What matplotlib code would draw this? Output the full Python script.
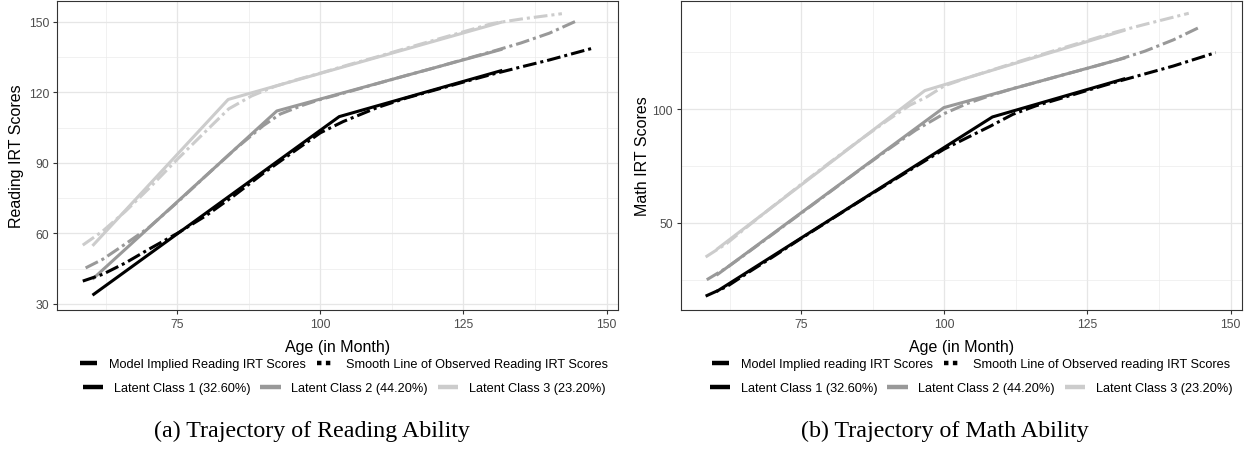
import numpy as np
import matplotlib
matplotlib.use("Agg")
import matplotlib.pyplot as plt
from matplotlib.lines import Line2D

plt.rcParams['font.family'] = ['Liberation Sans', 'DejaVu Sans']

# ---- reading: model implied (bilinear) ----
read_m_age1 = [60.2, 103.3, 131.8]
read_m_val1 = [33.7, 109.7, 129.4]
read_m_age2 = [60.2, 92.4, 131.8]
read_m_val2 = [40.5, 112.1, 138.4]
read_m_age3 = [60.2, 83.9, 131.8]
read_m_val3 = [54.7, 117.0, 150.0]

# ---- reading: smooth line of observed ----
read_o_age1 = [58.5, 62, 66, 70, 75, 80, 85, 90, 95, 100, 104, 110, 115, 120, 125, 130, 135, 140, 147.7]
read_o_val1 = [39.7, 42.6, 47.5, 53.2, 60.0, 67.5, 76.2, 85.5, 94.2, 102.8, 107.6, 113.6, 117.6, 121.0, 124.4, 127.7, 130.8, 133.8, 138.9]
read_o_age2 = [59, 62, 66, 70, 75, 80, 85, 90, 93, 97, 100, 105, 110, 115, 120, 125, 130, 135, 140, 145]
read_o_val2 = [45.3, 49.0, 55.6, 62.4, 73.2, 84.5, 95.6, 105.8, 110.8, 114.6, 117.0, 120.3, 123.8, 127.2, 130.5, 134.0, 137.4, 141.0, 145.2, 150.7]
read_o_age3 = [58.5, 62, 66, 70, 75, 80, 84, 88, 92, 96, 100, 105, 110, 115, 120, 125, 130, 135, 142.2]
read_o_val3 = [55.0, 61.0, 69.5, 79.0, 91.5, 103.5, 113.0, 118.5, 122.5, 125.5, 128.2, 131.8, 135.2, 138.8, 142.3, 145.8, 149.3, 151.2, 153.5]

# ---- math: model implied ----
math_m_age1 = [60.2, 108.4, 131.6]
math_m_val1 = [19.8, 96.6, 113.5]
math_m_age2 = [60.2, 99.9, 131.6]
math_m_val2 = [27.0, 100.7, 122.6]
math_m_age3 = [60.2, 96.6, 131.6]
math_m_val3 = [38.3, 108.2, 134.8]

# ---- math: smooth line of observed ----
math_o_age1 = [58.3, 62, 66, 70, 75, 80, 85, 90, 95, 100, 104, 108, 112, 116, 120, 125, 130, 135, 140, 147.4]
math_o_val1 = [17.8, 22.0, 28.6, 35.0, 43.2, 51.2, 59.2, 67.0, 74.8, 82.5, 87.5, 92.5, 97.8, 101.5, 104.5, 108.3, 112.0, 115.5, 119.0, 124.9]
math_o_age2 = [58.5, 62, 66, 70, 75, 80, 85, 90, 95, 100, 104, 108, 112, 116, 120, 125, 130, 135, 140, 144.7]
math_o_val2 = [25.0, 30.3, 37.6, 45.0, 54.3, 63.6, 72.9, 82.0, 90.8, 98.1, 102.5, 106.0, 109.1, 111.8, 114.6, 118.0, 121.5, 125.5, 130.5, 136.2]
math_o_age3 = [58.3, 62, 66, 70, 75, 80, 85, 90, 94, 97, 100, 104, 108, 112, 116, 120, 125, 130, 135, 142.7]
math_o_val3 = [35.0, 41.0, 49.2, 57.2, 67.0, 76.6, 86.0, 95.0, 101.8, 105.5, 110.3, 113.8, 117.0, 120.2, 123.3, 126.4, 130.2, 134.0, 137.3, 142.2]

class_labels = ['Latent Class 1 (32.60%)', 'Latent Class 2 (44.20%)', 'Latent Class 3 (23.20%)']
class_colors = ['#000000', '#999999', '#cccccc']

W, H = 1251, 456
fig = plt.figure(figsize=(W / 100, H / 100), dpi=100)

lw = 2.2
dd = (4.5, 1.3, 1.0, 1.3)


def panel(ax, model, obs, ylim, yticks, yminor, ylabel):
    for (a, v), c in zip(model, class_colors):
        ax.plot(a, v, color=c, lw=lw, solid_capstyle='butt', zorder=3)
    for (a, v), c in zip(obs, class_colors):
        ax.plot(a, v, color=c, lw=lw, dashes=dd, dash_capstyle='butt', zorder=3)
    ax.set_xlim(54.0, 152.0)
    ax.set_ylim(*ylim)
    ax.set_xticks([75, 100, 125, 150])
    ax.set_xticks([62.5, 87.5, 112.5, 137.5], minor=True)
    ax.set_yticks(yticks)
    ax.set_yticks(yminor, minor=True)
    ax.grid(which='major', color='#e6e6e6', lw=0.9, zorder=0)
    ax.grid(which='minor', color='#ebebeb', lw=0.5, zorder=0)
    ax.set_axisbelow(True)
    ax.tick_params(which='major', length=2.75, width=0.8, color='#333333',
                   labelsize=8.8, labelcolor='#4d4d4d', pad=3)
    ax.tick_params(which='minor', length=0)
    for s in ax.spines.values():
        s.set_color('#333333')
        s.set_linewidth(0.8)
    ax.set_xlabel('Age (in Month)', fontsize=11.5)
    ax.set_ylabel(ylabel, fontsize=11.5)
    ax.xaxis.set_label_coords(0.5, -0.095)


ax1 = fig.add_axes([57 / W, 145 / H, 561 / W, 309 / H])
panel(ax1,
      [(read_m_age1, read_m_val1), (read_m_age2, read_m_val2), (read_m_age3, read_m_val3)],
      [(read_o_age1, read_o_val1), (read_o_age2, read_o_val2), (read_o_age3, read_o_val3)],
      (27.4, 158.9), [30, 60, 90, 120, 150], [45, 75, 105, 135], 'Reading IRT Scores')
ax1.yaxis.set_label_coords(-0.058, 0.5)

ax2 = fig.add_axes([681 / W, 145 / H, 561 / W, 309 / H])
panel(ax2,
      [(math_m_age1, math_m_val1), (math_m_age2, math_m_val2), (math_m_age3, math_m_val3)],
      [(math_o_age1, math_o_val1), (math_o_age2, math_o_val2), (math_o_age3, math_o_val3)],
      (11.7, 147.6), [50, 100], [25, 75, 125], 'Math IRT Scores')
ax2.yaxis.set_label_coords(-0.055, 0.5)


def legends(xc, subj):
    h1 = [Line2D([], [], color='black', lw=3.2, solid_capstyle='butt'),
          Line2D([], [], color='black', lw=3.2, dashes=(1.0, 1.0), dash_capstyle='butt')]
    l1 = ['Model Implied %s IRT Scores' % subj, 'Smooth Line of Observed %s IRT Scores' % subj]
    fig.legend(h1, l1, loc='center', bbox_to_anchor=(xc / W, 1 - 365 / H), ncol=2,
               frameon=False, fontsize=9.2, handlelength=1.3, handletextpad=1.0,
               columnspacing=0.8, borderpad=0, borderaxespad=0)
    h2 = [Line2D([], [], color=c, lw=3.2, solid_capstyle='butt') for c in class_colors]
    fig.legend(h2, class_labels, loc='center', bbox_to_anchor=(xc / W, 1 - 389 / H), ncol=3,
               frameon=False, fontsize=9.2, handlelength=1.6, handletextpad=0.8,
               columnspacing=0.8, borderpad=0, borderaxespad=0)


legends(344, 'Reading')
legends(971, 'reading')

fig.text(312 / W, 1 - 431 / H, '(a) Trajectory of Reading Ability', ha='center', va='center',
         fontsize=17.3, family=['Liberation Serif', 'DejaVu Serif'])
fig.text(945 / W, 1 - 431 / H, '(b) Trajectory of Math Ability', ha='center', va='center',
         fontsize=17.3, family=['Liberation Serif', 'DejaVu Serif'])

fig.savefig('out.png', dpi=100)
